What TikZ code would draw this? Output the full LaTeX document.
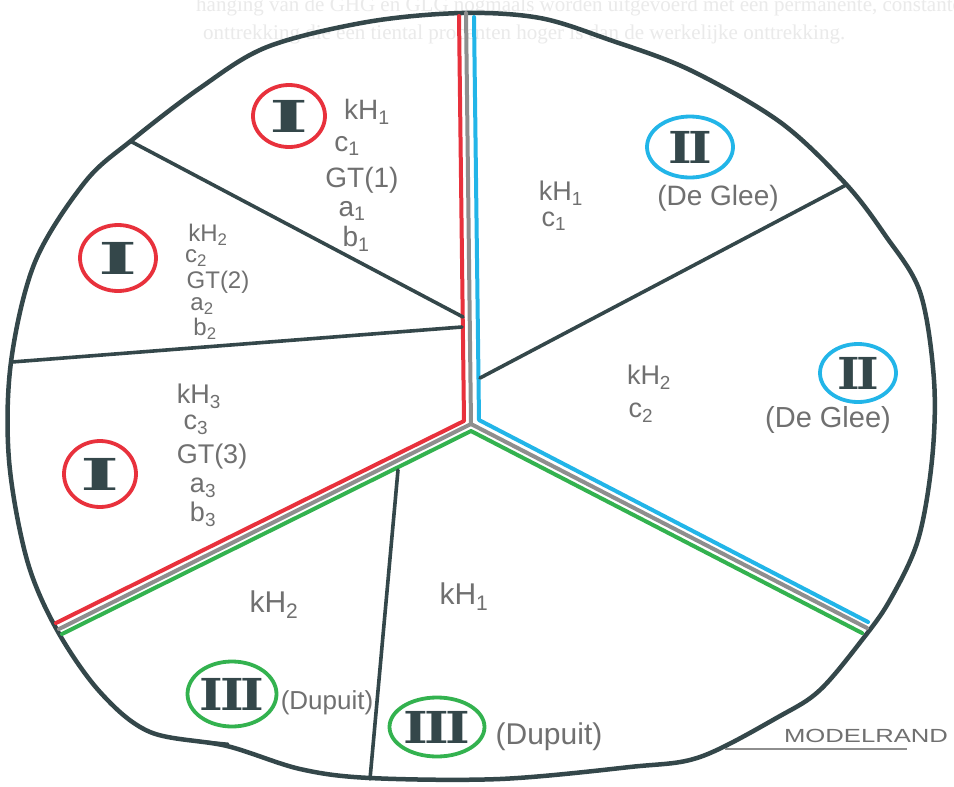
\documentclass[tikz,border=0pt]{standalone}
\usepackage{fontspec}
\setmainfont{Liberation Sans}
\newfontfamily\numfont{DejaVu Serif}
\newfontfamily\ghostfont{Liberation Serif}
\usetikzlibrary{shapes.geometric}
\definecolor{outl}{HTML}{34474A}
\definecolor{rd}{HTML}{E8313C}
\definecolor{bl}{HTML}{22B5E8}
\definecolor{gr}{HTML}{33B24F}
\definecolor{gy}{HTML}{8E8E8E}
\definecolor{txt}{HTML}{707070}
\definecolor{ghost}{HTML}{EAEAEA}
\tikzset{
  border/.style={draw=outl, line width=4.5pt, line cap=round, line join=round},
  divider/.style={draw=outl, line width=3.6pt, line cap=round},
  grayedge/.style={draw=gy, line width=4pt, line cap=round, line join=round},
  rededge/.style={draw=rd, line width=4pt, line cap=round, line join=round},
  blueedge/.style={draw=bl, line width=4pt, line cap=round, line join=round},
  greenedge/.style={draw=gr, line width=4pt, line cap=round, line join=round},
  lbl/.style={text=txt, inner sep=0pt, font=\fontsize{#1}{#1}\selectfont},
  lbl/.default=28,
  ring/.style={ellipse, line width=3.8pt, inner sep=0pt, fill=white},
  numtxt/.style={text=outl, font=\numfont\bfseries\fontsize{44}{44}\selectfont},
  ghosttxt/.style={text=ghost, inner sep=0pt, font=\ghostfont\fontsize{21}{21}\selectfont},
}
\begin{document}
\begin{tikzpicture}[x=1pt,y=-1pt]
\useasboundingbox (0,0) rectangle (954,787);
\fill[white] (0,0) rectangle (954,787);
\begin{scope}
\clip (0,0) rectangle (954,787);
\node[ghosttxt, anchor=base west] (g1) at (196,12) {hanging van de GHG en GLG nogmaals worden uitgevoerd met een permanente, constante};
\node[ghosttxt, anchor=base west] (g2) at (203,39) {onttrekking die een tiental procenten hoger is dan de werkelijke onttrekking.};
\end{scope}

% model boundary
\draw[border] plot[smooth cycle, tension=0.55] coordinates {
 (462,13) (540,18) (610,40) (690,70) (780,122) (845,183) (885,235) (920,292)
 (934,380) (932,460) (918,540) (890,600) (862,640) (820,690) (780,716) (700,757)
 (630,767) (500,779) (370,778) (300,769) (227,746) (150,732) (100,692) (57,630)
 (27,560) (9,460) (11,362) (35,262) (85,182) (132,140) (200,88) (267,47) (367,22)};
% small overlapping stroke on the edge
\coordinate (k1) at (196,741); \coordinate (k2) at (228,744);
\draw[divider, line width=3pt] (k1) -- (k2);

% junction geometry
\coordinate (C) at (471,424);
\coordinate (T) at (466,13);
\coordinate (L) at (59,629);
\coordinate (R) at (867,628);
\coordinate (Rt) at (459,16);
\coordinate (Rc) at (464,421);
\coordinate (Rl) at (56,623);
\coordinate (Bt) at (474,17);
\coordinate (Bc) at (479,420);
\coordinate (Br) at (868,622);
\coordinate (Gl) at (62,634);
\coordinate (Gc) at (471,431);
\coordinate (Gr) at (862,633);

\draw[grayedge] (T) -- (C) -- (L);
\draw[grayedge] (C) -- (R);
\draw[rededge] (Rt) -- (Rc) -- (Rl);
\draw[blueedge] (Bt) -- (Bc) -- (Br);
\draw[greenedge] (Gl) -- (Gc) -- (Gr);

% sub-divisions
\coordinate (d1a) at (132,142); \coordinate (d1b) at (463,317);
\coordinate (d2a) at (12,362);  \coordinate (d2b) at (462,327);
\coordinate (d3a) at (480,378); \coordinate (d3b) at (846,185);
\coordinate (d4a) at (398,470); \coordinate (d4b) at (370,779);
\draw[divider] (d1a) -- (d1b);
\draw[divider] (d2a) -- (d2b);
\draw[divider] (d3a) -- (d3b);
\draw[divider] (d4a) -- (d4b);

% Region I (top)
\node[ring, draw=rd, minimum width=72pt, minimum height=62pt] (c1) at (289,116) {};
\node[numtxt] (n1) at (c1) {\scalebox{1.9}[1]{I}};
\node[lbl=28] (a1) at (367,112) {kH\textsubscript{1}};
\node[lbl=28] (a2) at (347,146) {c\textsubscript{1}};
\node[lbl=28] (a3) at (362,180) {GT(1)};
\node[lbl=28] (a4) at (352,211) {a\textsubscript{1}};
\node[lbl=28] (a5) at (356,239) {b\textsubscript{1}};

% Region I (middle)
\node[ring, draw=rd, minimum width=76pt, minimum height=66pt] (c2) at (118,258) {};
\node[numtxt] (n2) at (c2) {\scalebox{1.9}[1]{I}};
\node[lbl=24] (b1) at (208,235) {kH\textsubscript{2}};
\node[lbl=24] (b2) at (196,258) {c\textsubscript{2}};
\node[lbl=24] (b3) at (218,282) {GT(2)};
\node[lbl=24] (b4) at (202,306) {a\textsubscript{2}};
\node[lbl=24] (b5) at (205,329) {b\textsubscript{2}};

% Region I (bottom)
\node[ring, draw=rd, minimum width=72pt, minimum height=66pt] (c3) at (100,474) {};
\node[numtxt] (n3) at (c3) {\scalebox{1.9}[1]{I}};
\node[lbl=27] (e1) at (199,396) {kH\textsubscript{3}};
\node[lbl=27] (e2) at (196,425) {c\textsubscript{3}};
\node[lbl=27] (e3) at (212,457) {GT(3)};
\node[lbl=27] (e4) at (203,488) {a\textsubscript{3}};
\node[lbl=27] (e5) at (203,514) {b\textsubscript{3}};

% Region II (top)
\node[ring, draw=bl, minimum width=86pt, minimum height=61pt] (c4) at (690,147) {};
\node[numtxt] (n4) at (c4) {\scalebox{1.15}[1]{I\kern-3ptI}};
\node[lbl=28] (f1) at (718,198) {(De Glee)};
\node[lbl=27] (f2) at (561,193) {kH\textsubscript{1}};
\node[lbl=27] (f3) at (554,221) {c\textsubscript{1}};

% Region II (bottom)
\node[ring, draw=bl, minimum width=76pt, minimum height=58pt] (c5) at (858,373) {};
\node[numtxt] (n5) at (c5) {\scalebox{1.1}[1]{I\kern-3ptI}};
\node[lbl=29] (h1) at (828,420) {(De Glee)};
\node[lbl=27] (h2) at (649,377) {kH\textsubscript{2}};
\node[lbl=27] (h3) at (641,413) {c\textsubscript{2}};

% Region III (left)
\node[lbl=30] (q1) at (274,605) {kH\textsubscript{2}};
\node[ring, draw=gr, minimum width=89pt, minimum height=65pt] (c6) at (232,694) {};
\node[numtxt] (n6) at (c6) {\scalebox{1.15}[1]{I\kern-3ptI\kern-3ptI}};
\node[lbl=26] (q2) at (327,703) {(Dupuit)};

% Region III (right)
\node[lbl=30] (m1) at (464,597) {kH\textsubscript{1}};
\node[ring, draw=gr, minimum width=95pt, minimum height=59pt] (c7) at (437,727) {};
\node[numtxt] (n7) at (c7) {\scalebox{1.2}[1]{I\kern-3ptI\kern-3ptI}};
\node[lbl=30] (m2) at (549,737) {(Dupuit)};

% model edge label
\node[lbl=19] (mr) at (866,736) {\scalebox{1.35}[1]{MODELRAND}};
\coordinate (u1) at (725,749); \coordinate (u2) at (907,749);
\draw[gy, line width=1.2pt] (u1) -- (u2);
\end{tikzpicture}
\end{document}
